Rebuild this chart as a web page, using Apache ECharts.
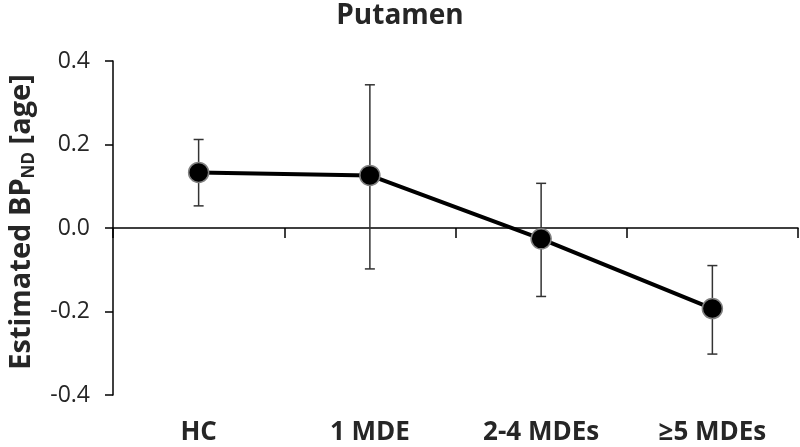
<!DOCTYPE html>
<html>
<head>
<meta charset="utf-8">
<script src="https://cdn.jsdelivr.net/npm/echarts@6/dist/echarts.min.js"></script>
<style>html,body{margin:0;padding:0;background:#fff}#c{width:800px;height:447px}</style>
</head>
<body>
<div id="c"></div>
<script>
const categories = ['HC', '1 MDE', '2-4 MDEs', '≥5 MDEs'];
const means = [0.133, 0.126, -0.026, -0.193];
const upper = [0.212, 0.343, 0.107, -0.090];
const lower = [0.053, -0.098, -0.164, -0.302];
const yTicks = [-0.4, -0.2, 0.0, 0.2, 0.4];

const FONT = '"Open Sans", "Noto Sans", sans-serif';
const TXT = '#262626';

const chart = echarts.init(document.getElementById('c'));
chart.setOption({
  animation: false,
  title: {
    text: 'Putamen', left: 'center', top: -3,
    textStyle: { fontFamily: FONT, fontSize: 28, fontWeight: 'bold', color: TXT }
  },
  grid: { left: 113, right: 2, top: 61, bottom: 52, containLabel: false, outerBoundsMode: 'none' },
  xAxis: [
    {
      type: 'category', data: categories, boundaryGap: true,
      axisLine: { onZero: true, lineStyle: { color: '#000', width: 1.5 } },
      axisTick: { show: true, length: 10, lineStyle: { color: '#000', width: 1.5 } },
      axisLabel: { show: false }
    },
    {
      type: 'category', data: categories, boundaryGap: true, position: 'bottom',
      axisLine: { show: false, onZero: false }, axisTick: { show: false },
      axisLabel: { margin: 25, fontFamily: FONT, fontSize: 26, fontWeight: 'bold', color: TXT }
    }
  ],
  yAxis: {
    type: 'value', min: yTicks[0], max: yTicks[yTicks.length - 1], interval: 0.2,
    splitLine: { show: false },
    axisLine: { show: true, lineStyle: { color: '#000', width: 1.5 } },
    axisTick: { show: true, length: 8, lineStyle: { color: '#000', width: 1.5 } },
    axisLabel: { margin: 23, fontFamily: FONT, fontSize: 23, color: TXT,
      formatter: v => v.toFixed(1) },
    name: '{e|Estimated BP}{s|ND}{a| [age]}',
    nameLocation: 'middle', nameGap: 75, nameRotate: 90,
    nameTextStyle: {
      rich: {
        e: { fontFamily: FONT, fontSize: 29, fontWeight: 'bold', color: TXT, padding: [0, 0, 0, 12] },
        a: { fontFamily: FONT, fontSize: 29, fontWeight: 'bold', color: TXT },
        s: { fontFamily: FONT, fontSize: 17, fontWeight: 'bold', color: TXT, padding: [15, 0, 0, 0] }
      }
    }
  },
  series: [
    {
      type: 'custom', z: 1, xAxisIndex: 0,
      data: categories.map((c, i) => [i, lower[i], upper[i]]),
      renderItem: function (params, api) {
        const lo = api.coord([api.value(0), api.value(1)]);
        const hi = api.coord([api.value(0), api.value(2)]);
        const w = 5;
        const st = { stroke: '#333', lineWidth: 1.5 };
        return {
          type: 'group',
          children: [
            { type: 'line', shape: { x1: hi[0], y1: hi[1], x2: lo[0], y2: lo[1] }, style: st },
            { type: 'line', shape: { x1: hi[0] - w, y1: hi[1], x2: hi[0] + w, y2: hi[1] }, style: st },
            { type: 'line', shape: { x1: lo[0] - w, y1: lo[1], x2: lo[0] + w, y2: lo[1] }, style: st }
          ]
        };
      }
    },
    {
      type: 'line', z: 3, xAxisIndex: 0,
      data: means,
      symbol: 'circle', symbolSize: 20,
      lineStyle: { color: '#000', width: 4 },
      itemStyle: { color: '#000', borderColor: '#808080', borderWidth: 1.5 }
    }
  ]
});
</script>
</body>
</html>
